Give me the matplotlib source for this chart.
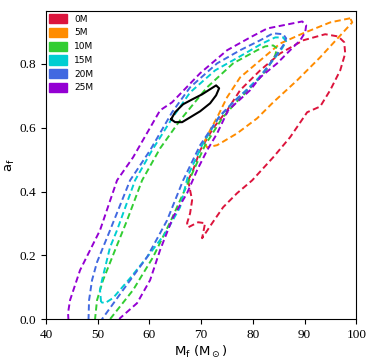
import matplotlib.pyplot as plt
import matplotlib.patches as mpatches

plt.rcParams['mathtext.fontset'] = 'dejavusans'

labels = ['0M', '5M', '10M', '15M', '20M', '25M']
colors = ['crimson', 'darkorange', 'limegreen', 'darkturquoise', 'royalblue', 'darkviolet']

# 90% credible contours (Mf, af)
mf_0 = [67.47, 67.85, 68.24, 67.85, 67.27, 67.47, 69.40, 70.75, 70.17, 72.11, 74.24, 76.94,
        79.85, 83.91, 87.19, 90.48, 93.00, 94.93, 96.87, 97.83, 97.64, 96.48, 93.96, 89.71,
        85.26, 81.39, 77.52, 75.01, 72.30, 69.79, 68.43]
af_0 = [0.435, 0.404, 0.373, 0.332, 0.301, 0.288, 0.304, 0.301, 0.254, 0.301, 0.351, 0.395,
        0.435, 0.507, 0.570, 0.648, 0.666, 0.717, 0.779, 0.832, 0.867, 0.885, 0.892, 0.873,
        0.832, 0.779, 0.717, 0.654, 0.598, 0.529, 0.467]

mf_5 = [98.80, 94.93, 89.71, 85.26, 81.39, 77.52, 75.01, 73.08, 71.72, 70.56, 71.14, 73.08,
        76.94, 80.81, 83.91, 88.55, 93.00, 96.87, 99.19]
af_5 = [0.942, 0.929, 0.895, 0.863, 0.810, 0.757, 0.695, 0.632, 0.592, 0.554, 0.538, 0.545,
        0.582, 0.629, 0.679, 0.748, 0.820, 0.888, 0.929]

mf_10 = [49.48, 49.48, 49.86, 51.03, 53.35, 55.67, 58.57, 62.05, 65.92, 71.14, 76.17, 80.81,
         82.36, 83.91, 84.68, 84.29, 82.94, 81.39, 79.07, 76.56, 74.04, 70.75, 67.85, 64.37,
         60.70, 56.83, 52.38, 52.19]
af_10 = [-0.033, 0.001, 0.060, 0.123, 0.217, 0.310, 0.435, 0.535, 0.623, 0.726, 0.801, 0.842,
         0.854, 0.857, 0.848, 0.826, 0.788, 0.757, 0.717, 0.676, 0.629, 0.545, 0.442, 0.317,
         0.195, 0.092, 0.001, -0.033]

mf_15 = [50.64, 50.44, 50.83, 52.38, 53.73, 57.21, 60.50, 64.37, 67.85, 72.69, 77.52, 81.78,
         84.29, 85.84, 86.42, 85.65, 84.49, 82.94, 81.01, 78.68, 75.98, 73.27, 70.17, 67.47,
         65.92, 63.21, 60.12, 56.25, 52.96, 51.41]
af_15 = [0.054, 0.092, 0.123, 0.226, 0.279, 0.435, 0.529, 0.629, 0.710, 0.779, 0.823, 0.863,
         0.882, 0.882, 0.870, 0.848, 0.823, 0.792, 0.754, 0.717, 0.676, 0.629, 0.545, 0.451,
         0.351, 0.273, 0.207, 0.129, 0.067, 0.051]

mf_20 = [48.12, 48.22, 48.32, 48.90, 49.86, 52.38, 56.25, 60.12, 64.37, 67.85, 73.08, 77.52,
         81.39, 83.91, 85.84, 86.42, 85.84, 84.87, 83.33, 81.39, 79.46, 76.56, 73.66, 69.79,
         66.50, 63.40, 59.54, 54.89, 50.83, 50.64]
af_20 = [-0.033, 0.001, 0.060, 0.123, 0.179, 0.279, 0.435, 0.529, 0.648, 0.726, 0.801, 0.842,
         0.873, 0.895, 0.892, 0.879, 0.857, 0.835, 0.801, 0.757, 0.726, 0.685, 0.638, 0.545,
         0.435, 0.310, 0.195, 0.092, 0.001, -0.033]

mf_25 = [44.45, 44.26, 44.64, 46.58, 50.44, 53.73, 56.83, 62.05, 64.37, 69.79, 75.01, 79.46,
         82.75, 85.84, 89.52, 90.29, 90.10, 89.13, 87.19, 84.68, 81.39, 79.46, 75.20, 73.08,
         71.14, 69.21, 67.27, 64.56, 62.05, 60.12, 57.60, 54.31, 53.35]
af_25 = [-0.033, 0.020, 0.060, 0.154, 0.279, 0.435, 0.507, 0.654, 0.679, 0.770, 0.842, 0.882,
         0.910, 0.920, 0.932, 0.920, 0.898, 0.873, 0.842, 0.801, 0.757, 0.717, 0.654, 0.582,
         0.529, 0.467, 0.395, 0.320, 0.217, 0.123, 0.051, 0.004, -0.033]

mf_ref = [64.18, 64.95, 66.50, 68.24, 70.17, 71.72, 72.88, 73.46, 72.88, 71.72, 69.79, 67.85,
          66.31, 64.95]
af_ref = [0.626, 0.648, 0.673, 0.688, 0.704, 0.720, 0.732, 0.723, 0.701, 0.676, 0.651, 0.632,
          0.617, 0.617]

mfs = [mf_0, mf_5, mf_10, mf_15, mf_20, mf_25]
afs = [af_0, af_5, af_10, af_15, af_20, af_25]

fig = plt.figure(figsize=(3.74, 3.63), dpi=100)
ax = fig.add_axes([0.123, 0.120, 0.830, 0.850])

for x, y, c in zip(mfs, afs, colors):
    ax.plot(x + x[:1], y + y[:1], '--', color=c, lw=1.4, dashes=(3.2, 1.8))

ax.plot(mf_ref + mf_ref[:1], af_ref + af_ref[:1], '-', color='black', lw=1.5)

ax.set_xlim(40, 100)
ax.set_ylim(0, 0.965)
ax.set_xticks([40, 50, 60, 70, 80, 90, 100])
ax.set_yticks([0.0, 0.2, 0.4, 0.6, 0.8])
for lab in ax.get_xticklabels() + ax.get_yticklabels():
    lab.set_family('Liberation Serif')
    lab.set_fontsize(9.5)
ax.tick_params(top=False, right=False, length=3.5)
ax.set_xlabel(r'M$_{\rm f}$ (M$_\odot$)', fontsize=9.5, labelpad=2)
ax.set_ylabel(r'a$_{\rm f}$', fontsize=9.5)
ax.yaxis.set_label_coords(-0.095, 0.5)

handles = [mpatches.Patch(color=c, label=l) for c, l in zip(colors, labels)]
ax.legend(handles=handles, loc='upper left', frameon=False, fontsize=6.5,
          handlelength=2.0, handleheight=1.2, labelspacing=0.45,
          borderaxespad=0.15, borderpad=0.2, handletextpad=0.8)

plt.savefig('out.png', dpi=100)
